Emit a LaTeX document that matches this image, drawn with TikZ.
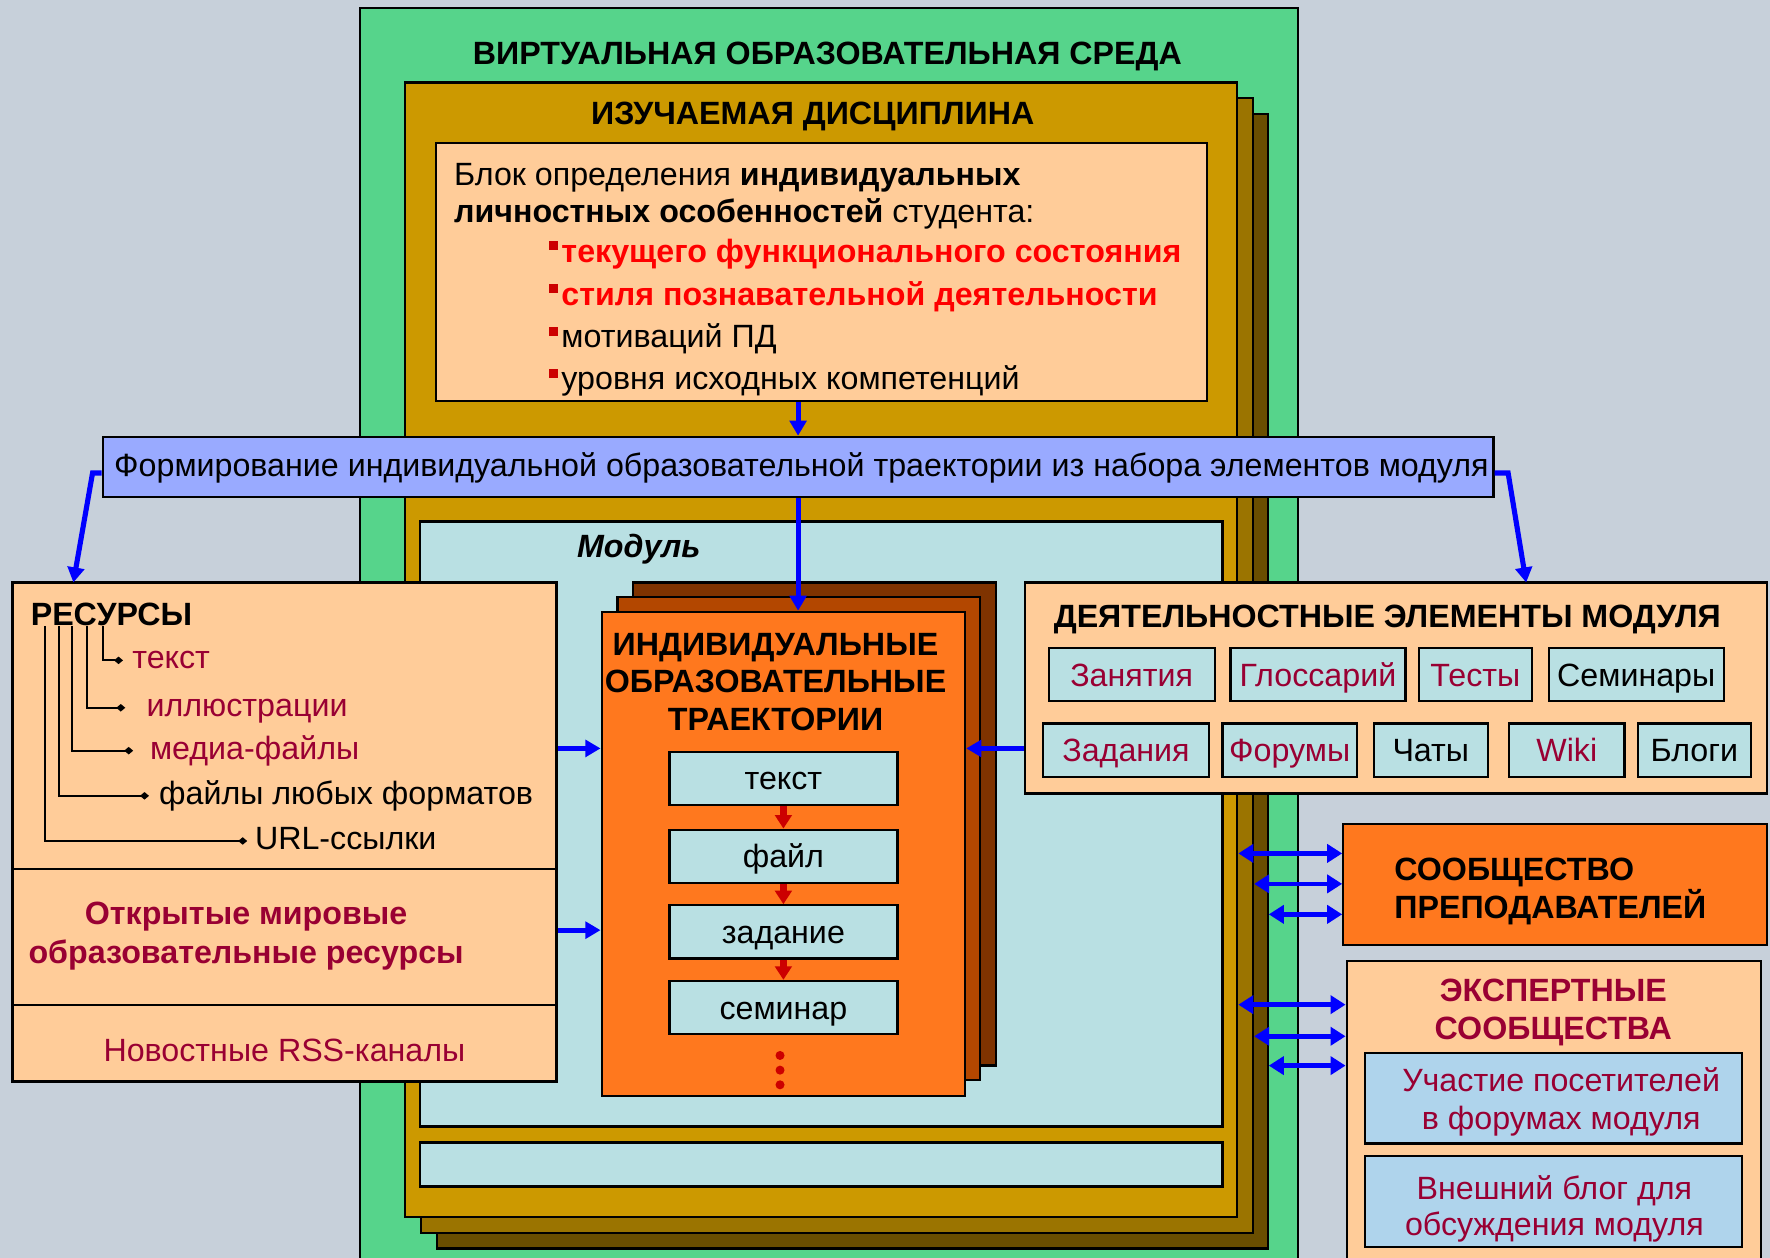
\documentclass[tikz,border=0pt]{standalone}
\usepackage{fontspec}
\setmainfont{Liberation Sans}
\usepackage{tikz}
\usetikzlibrary{arrows.meta,fit}

\definecolor{bgc}{RGB}{199,208,218}
\definecolor{sreda}{RGB}{86,212,139}
\definecolor{goldA}{RGB}{204,153,0}
\definecolor{goldB}{RGB}{155,116,0}
\definecolor{goldC}{RGB}{106,78,0}
\definecolor{peach}{RGB}{255,204,153}
\definecolor{barblue}{RGB}{153,170,255}
\definecolor{modblue}{RGB}{185,224,227}
\definecolor{expblue}{RGB}{175,212,236}
\definecolor{orA}{RGB}{255,120,30}
\definecolor{orB}{RGB}{179,71,0}
\definecolor{orC}{RGB}{127,51,0}
\definecolor{dred}{RGB}{153,0,51}
\definecolor{bred}{RGB}{204,0,0}

\newcommand\blt{{\color{bred}\rule[0.37em]{0.27em}{0.28em}}\hspace{0.12em}}

\tikzset{
  box/.style={draw=black, line width=1.5pt, inner sep=0pt},
  txt/.style={inner sep=0pt, font=\fontsize{21.4}{25}\selectfont, text height=15.4pt, text depth=0pt},
  ttl/.style={txt, font=\fontsize{21.4}{25}\selectfont\bfseries},
  itm/.style={txt, anchor=west, text height=11.1pt},
  elem/.style={box, fill=modblue},
  tree/.style={line width=1.2pt, -{Diamond[length=6pt,width=5pt]}},
  blu/.style={draw=blue, line width=3.4pt, -{Triangle[length=10pt,width=11pt]}},
  dbl/.style={draw=blue, line width=3pt, {Triangle[length=10pt,width=12pt]}-{Triangle[length=10pt,width=12pt]}},
  redarr/.style={draw=bred, line width=4.5pt, -{Triangle[length=9pt,width=11pt]}}
}

\begin{document}
\begin{tikzpicture}[x=0.75pt,y=0.75pt,yscale=-1,xscale=1]
\useasboundingbox (0,0) rectangle (1568,1114);
\fill[bgc] (0,0) rectangle (1568,1114);

% virtual environment
\node[box, fill=sreda, fit={(319,7) (1150,1130)}] (sreda) {};
\node[ttl] (sredattl) at (733,47) {ВИРТУАЛЬНАЯ ОБРАЗОВАТЕЛЬНАЯ СРЕДА};

% discipline (three layers)
\node[box, fill=goldC, fit={(387,101) (1123,1106)}] (disc3) {};
\node[box, fill=goldB, fit={(373,87) (1110,1092)}] (disc2) {};
\node[box, fill=goldA, fit={(359,73) (1096,1078)}] (disc1) {};
\node[ttl] (discttl) at (720,100) {ИЗУЧАЕМАЯ ДИСЦИПЛИНА};

% block of personal features
\node[box, fill=peach, fit={(386,127) (1069,355)}] (blk) {};
\node[txt, anchor=west] (blk1) at (402,154) {Блок определения \textbf{индивидуальных}};
\node[txt, anchor=west] (blk2) at (402,187) {\textbf{личностных особенностей} студента:};
\node[txt, anchor=west] (blk3) at (486,222) {\blt\textcolor{red}{\textbf{текущего функционального состояния}}};
\node[txt, anchor=west] (blk4) at (486,260) {\blt\textcolor{red}{\textbf{стиля познавательной деятельности}}};
\node[txt, anchor=west] (blk5) at (486,298) {\blt{}мотиваций ПД};
\node[txt, anchor=west] (blk6) at (486,335) {\blt{}уровня исходных компетенций};

% module
\node[box, fill=modblue, fit={(372,462) (1083,998)}] (mod) {};
\node[txt, anchor=west, font=\fontsize{21.4}{25}\selectfont\bfseries\itshape] (modttl) at (511,484) {Модуль};
\node[box, fill=modblue, fit={(372,1012) (1083,1051)}] (mod2) {};

% trajectory bar
\node[box, fill=barblue, fit={(91,387) (1323,440)}] (bar) {};
\node[txt] (bartxt) at (710,412) {Формирование индивидуальной образовательной траектории из набора элементов модуля};

% resources
\node[box, fill=peach, fit={(11,516) (493,958)}] (res) {};
\coordinate (ysep1) at (0,770);
\coordinate (ysep2) at (0,890);
\draw[line width=1.5pt] (res.west |- ysep1) -- (res.east |- ysep1);
\draw[line width=1.5pt] (res.west |- ysep2) -- (res.east |- ysep2);
\node[ttl, anchor=west] (resttl) at (27,544) {РЕСУРСЫ};
\node[itm, text=dred, inner xsep=6pt] (r1) at (109,585) {текст};
\node[itm, text=dred, inner xsep=14pt] (r2) at (111,627) {иллюстрации};
\node[itm, text=dred, inner xsep=11pt] (r3) at (118,665) {медиа-файлы};
\node[itm, inner xsep=6.5pt] (r4) at (132,705) {файлы любых форматов};
\node[itm, inner xsep=5pt] (r5) at (219,745) {URL-ссылки};
\draw[tree] ([xshift=48pt]resttl.south west) |- (r1.west);
\draw[tree] ([xshift=37.5pt]resttl.south west) |- (r2.west);
\draw[tree] ([xshift=27.75pt]resttl.south west) |- (r3.west);
\draw[tree] ([xshift=18.75pt]resttl.south west) |- (r4.west);
\draw[tree] ([xshift=9.75pt]resttl.south west) |- (r5.west);
\node[ttl, text=dred] (open1) at (218,809) {Открытые мировые};
\node[ttl, text=dred] (open2) at (218,843) {образовательные ресурсы};
\node[txt, text=dred] (rss) at (252,930) {Новостные RSS-каналы};

% activity elements
\node[box, fill=peach, fit={(908,516) (1565,703)}] (act) {};
\node[ttl] (actttl) at (1229,546) {ДЕЯТЕЛЬНОСТНЫЕ ЭЛЕМЕНТЫ МОДУЛЯ};
\node[elem, fit={(929,574) (1076,621)}] (e1) {};
\node[elem, fit={(1090,574) (1245,621)}] (e2) {};
\node[elem, fit={(1257,574) (1357,621)}] (e3) {};
\node[elem, fit={(1372,574) (1527,621)}] (e4) {};
\node[elem, fit={(924,641) (1071,688)}] (e5) {};
\node[elem, fit={(1083,641) (1202,688)}] (e6) {};
\node[elem, fit={(1217,641) (1318,688)}] (e7) {};
\node[elem, fit={(1337,641) (1439,688)}] (e8) {};
\node[elem, fit={(1451,641) (1551,688)}] (e9) {};
\node[txt, text=dred] (e1t) at (e1) {Занятия};
\node[txt, text=dred] (e2t) at (e2) {Глоссарий};
\node[txt, text=dred] (e3t) at (e3) {Тесты};
\node[txt] (e4t) at (e4) {Семинары};
\node[txt, text=dred] (e5t) at (e5) {Задания};
\node[txt, text=dred] (e6t) at (e6) {Форумы};
\node[txt] (e7t) at (e7) {Чаты};
\node[txt, text=dred] (e8t) at (e8) {Wiki};
\node[txt] (e9t) at (e9) {Блоги};

% individual trajectories (three layers)
\node[box, fill=orC, fit={(561,516) (882,944)}] (iot3) {};
\node[box, fill=orB, fit={(547,529) (868,957)}] (iot2) {};
\node[box, fill=orA, fit={(533,542) (855,971)}] (iot1) {};
\node[ttl] (iotttl1) at (687,570) {ИНДИВИДУАЛЬНЫЕ};
\node[ttl] (iotttl2) at (687,603) {ОБРАЗОВАТЕЛЬНЫЕ};
\node[ttl] (iotttl3) at (687,637) {ТРАЕКТОРИИ};
\node[elem, fit={(593,666) (795,713)}] (i1) {};
\node[elem, fit={(593,735) (795,782)}] (i2) {};
\node[elem, fit={(593,802) (795,849)}] (i3) {};
\node[elem, fit={(593,869) (795,916)}] (i4) {};
\node[txt] (i1t) at (i1) {текст};
\node[txt] (i2t) at (i2) {файл};
\node[txt] (i3t) at (i3) {задание};
\node[txt] (i4t) at (i4) {семинар};
\draw[redarr] (i1.south) -- (i2.north);
\draw[redarr] (i2.south) -- (i3.north);
\draw[redarr] (i3.south) -- (i4.north);
\fill[bred] (691,935) circle (3pt) (691,948) circle (3pt) (691,961) circle (3pt);

% teachers and experts
\node[box, fill=orA, fit={(1190,730) (1565,837)}] (teach) {};
\node[ttl, anchor=west] (teach1) at (1235,770) {СООБЩЕСТВО};
\node[ttl, anchor=west] (teach2) at (1235,803) {ПРЕПОДАВАТЕЛЕЙ};
\node[box, fill=peach, fit={(1193,851) (1560,1130)}] (expert) {};
\node[ttl, text=dred] (exttl1) at (1376,877) {ЭКСПЕРТНЫЕ};
\node[ttl, text=dred] (exttl2) at (1376,911) {СООБЩЕСТВА};
\node[box, fill=expblue, fit={(1209,933) (1543,1013)}] (ex1) {};
\node[txt, text=dred] (ex1a) at (1383,957) {Участие посетителей};
\node[txt, text=dred] (ex1b) at (1383,990) {в форумах модуля};
\node[box, fill=expblue, fit={(1209,1024) (1543,1105)}] (ex2) {};
\node[txt, text=dred] (ex2a) at (1377,1052) {Внешний блог для};
\node[txt, text=dred] (ex2b) at (1377,1084) {обсуждения модуля};

% connectors
\coordinate (ax) at (707,0);
\coordinate (ya) at (0,663);
\coordinate (yb) at (0,824);
\coordinate (yc) at (0,419);
\coordinate (resin) at (65,516);
\coordinate (actin) at (1352,516);
\draw[blu] (blk.south -| ax) -- (bar.north -| ax);
\draw[blu] (bar.south -| ax) -- (iot1.north -| ax);
\draw[blu] (bar.west |- yc) -- ++(-8,0) -- (resin);
\draw[blu] (bar.east |- yc) -- ++(12,0) -- (actin);
\draw[blu] (res.east |- ya) -- (iot1.west |- ya);
\draw[blu] (res.east |- yb) -- (iot1.west |- yb);
\draw[blu] (act.west |- ya) -- (iot1.east |- ya);

\coordinate (t1) at (0,756);
\coordinate (t2) at (0,783);
\coordinate (t3) at (0,810);
\coordinate (x1) at (0,890);
\coordinate (x2) at (0,918);
\coordinate (x3) at (0,944);
\draw[dbl] (disc1.east |- t1) -- (teach.west |- t1);
\draw[dbl] (disc2.east |- t2) -- (teach.west |- t2);
\draw[dbl] (disc3.east |- t3) -- (teach.west |- t3);
\draw[dbl] (disc1.east |- x1) -- (expert.west |- x1);
\draw[dbl] (disc2.east |- x2) -- (expert.west |- x2);
\draw[dbl] (disc3.east |- x3) -- (expert.west |- x3);
\end{tikzpicture}
\end{document}
